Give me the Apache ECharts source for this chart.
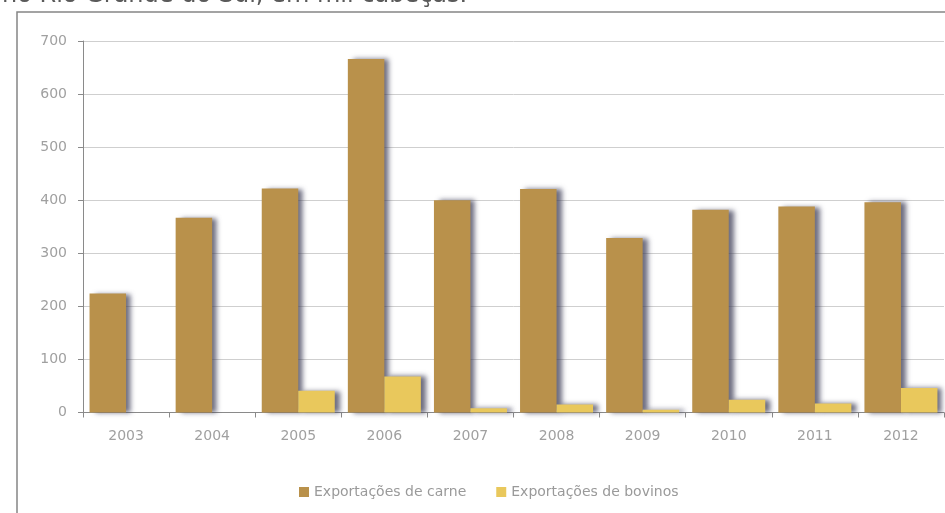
<!DOCTYPE html>
<html>
<head>
<meta charset="utf-8">
<title>Exportações de carne e de bovinos</title>
<script src="https://cdn.jsdelivr.net/npm/echarts@6/dist/echarts.min.js"></script>
<style>
  html, body { margin: 0; padding: 0; background: #ffffff; }
  #chart { width: 945px; height: 513px; }
</style>
</head>
<body>
<div id="chart"></div>
<script>
// Anos e exportações (mil cabeças)
const anos = ['2003', '2004', '2005', '2006', '2007', '2008', '2009', '2010', '2011', '2012'];
const exportacoesCarne = [224, 367, 422, 666, 400, 421, 329, 382, 388, 396];
const exportacoesBovinos = [0, 0, 41, 68, 8, 15, 5, 24, 17, 46];
const nomesSeries = ['Exportações de carne', 'Exportações de bovinos'];
const tituloParcial = 'no Rio Grande do Sul, em mil cabeças.';

const FONTE = '"DejaVu Sans", "Open Sans", sans-serif';
const corCarne = '#b9914b';
const corBovinos = '#e9c85c';

const sombra = {
  shadowColor: 'rgba(60, 60, 85, 0.75)',
  shadowBlur: 5,
  shadowOffsetX: 5,
  shadowOffsetY: 0
};

const chart = echarts.init(document.getElementById('chart'), null, { renderer: 'canvas' });

chart.setOption({
  animation: false,
  backgroundColor: '#ffffff',
  graphic: [
    {
      type: 'text',
      left: 2,
      top: -16,
      style: {
        text: tituloParcial,
        font: '24px ' + FONTE,
        fill: '#5a5a5a'
      }
    },
    {
      type: 'rect',
      shape: { x: 17, y: 12, width: 960, height: 540 },
      style: { fill: 'none', stroke: '#858585', lineWidth: 1.5 },
      z: 100
    }
  ],
  legend: {
    data: nomesSeries,
    left: 294,
    top: 480,
    icon: 'rect',
    itemWidth: 10,
    itemHeight: 10,
    itemGap: 30,
    textStyle: { color: '#9a9a9a', fontSize: 14, fontFamily: FONTE }
  },
  grid: {
    left: 83,
    right: 1,
    top: 41,
    bottom: 100.5,
    containLabel: false
  },
  xAxis: {
    type: 'category',
    data: anos,
    axisLine: { lineStyle: { color: '#8a8a8a', width: 1 } },
    axisTick: { show: true, length: 5, lineStyle: { color: '#8a8a8a' } },
    axisLabel: { color: '#a0a0a0', fontSize: 14, fontFamily: FONTE, margin: 17 },
    splitLine: { show: false }
  },
  yAxis: {
    type: 'value',
    min: 0,
    max: 700,
    interval: 100,
    axisLine: { show: true, lineStyle: { color: '#8a8a8a', width: 1 } },
    axisTick: { show: true, length: 5, lineStyle: { color: '#8a8a8a' } },
    axisLabel: { color: '#a0a0a0', fontSize: 14, fontFamily: FONTE, margin: 16 },
    splitLine: { show: true, lineStyle: { color: '#cfcfcf', width: 1 } }
  },
  series: [
    {
      name: nomesSeries[0],
      type: 'bar',
      data: exportacoesCarne,
      barWidth: 36.5,
      barGap: '0%',
      itemStyle: Object.assign({ color: corCarne }, sombra)
    },
    {
      name: nomesSeries[1],
      type: 'bar',
      data: exportacoesBovinos,
      barWidth: 36.5,
      barGap: '0%',
      itemStyle: Object.assign({ color: corBovinos }, sombra)
    }
  ]
});
</script>
</body>
</html>
